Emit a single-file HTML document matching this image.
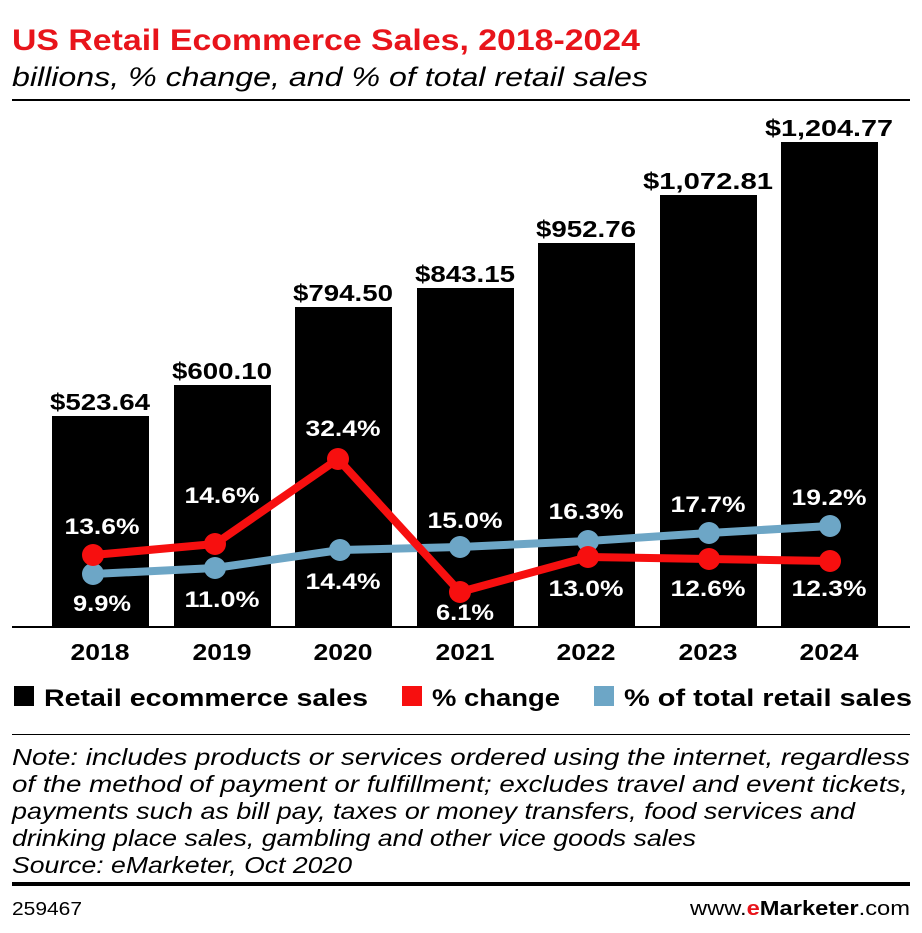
<!DOCTYPE html>
<html><head><meta charset="utf-8"><style>
body{margin:0;background:#fff;width:922px;height:928px;overflow:hidden;font-family:"Liberation Sans",sans-serif}
</style></head><body>
<svg width="922" height="928" xmlns="http://www.w3.org/2000/svg" font-family="Liberation Sans, sans-serif">
<text x="12" y="50" font-size="30" font-weight="bold" fill="#e8141b" textLength="628" lengthAdjust="spacingAndGlyphs">US Retail Ecommerce Sales, 2018-2024</text>
<text x="12" y="86" font-size="27" font-style="italic" fill="#000" textLength="636" lengthAdjust="spacingAndGlyphs">billions, % change, and % of total retail sales</text>
<rect x="12" y="99" width="898" height="2" fill="#000"/>
<g fill="#000">
<rect x="52" y="416" width="97" height="211"/>
<rect x="174" y="385" width="97" height="242"/>
<rect x="295" y="307" width="97" height="320"/>
<rect x="417" y="288" width="97" height="339"/>
<rect x="538" y="243" width="97" height="384"/>
<rect x="660" y="195" width="97" height="432"/>
<rect x="781" y="142" width="97" height="485"/>
</g>
<rect x="12" y="626" width="898" height="2" fill="#000"/>
<g font-size="23" font-weight="bold" text-anchor="middle" fill="#000" lengthAdjust="spacingAndGlyphs">
<text x="100" y="410" textLength="100" lengthAdjust="spacingAndGlyphs">$523.64</text>
<text x="222" y="379" textLength="100" lengthAdjust="spacingAndGlyphs">$600.10</text>
<text x="343" y="301" textLength="100" lengthAdjust="spacingAndGlyphs">$794.50</text>
<text x="465" y="282" textLength="100" lengthAdjust="spacingAndGlyphs">$843.15</text>
<text x="586" y="237" textLength="100" lengthAdjust="spacingAndGlyphs">$952.76</text>
<text x="708" y="189" textLength="130" lengthAdjust="spacingAndGlyphs">$1,072.81</text>
<text x="829" y="136" textLength="128" lengthAdjust="spacingAndGlyphs">$1,204.77</text>
<text x="100" y="660" textLength="59" lengthAdjust="spacingAndGlyphs">2018</text>
<text x="222" y="660" textLength="59" lengthAdjust="spacingAndGlyphs">2019</text>
<text x="343" y="660" textLength="59" lengthAdjust="spacingAndGlyphs">2020</text>
<text x="465" y="660" textLength="59" lengthAdjust="spacingAndGlyphs">2021</text>
<text x="586" y="660" textLength="59" lengthAdjust="spacingAndGlyphs">2022</text>
<text x="708" y="660" textLength="59" lengthAdjust="spacingAndGlyphs">2023</text>
<text x="829" y="660" textLength="59" lengthAdjust="spacingAndGlyphs">2024</text>
</g>
<polyline points="93,574 215,568 340,550 460,547 588,541 709,533 830,526" fill="none" stroke="#6da6c6" stroke-width="8"/>
<g fill="#6da6c6"><circle cx="93" cy="574" r="11"/><circle cx="215" cy="568" r="11"/><circle cx="340" cy="550" r="11"/><circle cx="460" cy="547" r="11"/><circle cx="588" cy="541" r="11"/><circle cx="709" cy="533" r="11"/><circle cx="830" cy="526" r="11"/></g>
<polyline points="93,555 215,544 338,459 460,592 588,557 709,559 830,561" fill="none" stroke="#f70f0f" stroke-width="8"/>
<g fill="#f70f0f"><circle cx="93" cy="555" r="11"/><circle cx="215" cy="544" r="11"/><circle cx="338" cy="459" r="11"/><circle cx="460" cy="592" r="11"/><circle cx="588" cy="557" r="11"/><circle cx="709" cy="559" r="11"/><circle cx="830" cy="561" r="11"/></g>
<g font-size="22" font-weight="bold" text-anchor="middle" fill="#fff">
<text x="102" y="534" textLength="75" lengthAdjust="spacingAndGlyphs">13.6%</text>
<text x="222" y="503" textLength="75" lengthAdjust="spacingAndGlyphs">14.6%</text>
<text x="343" y="436" textLength="75" lengthAdjust="spacingAndGlyphs">32.4%</text>
<text x="465" y="528" textLength="75" lengthAdjust="spacingAndGlyphs">15.0%</text>
<text x="586" y="519" textLength="75" lengthAdjust="spacingAndGlyphs">16.3%</text>
<text x="708" y="512" textLength="75" lengthAdjust="spacingAndGlyphs">17.7%</text>
<text x="829" y="505" textLength="75" lengthAdjust="spacingAndGlyphs">19.2%</text>
<text x="102" y="611" textLength="58" lengthAdjust="spacingAndGlyphs">9.9%</text>
<text x="222" y="607" textLength="75" lengthAdjust="spacingAndGlyphs">11.0%</text>
<text x="343" y="589" textLength="75" lengthAdjust="spacingAndGlyphs">14.4%</text>
<text x="465" y="620" textLength="58" lengthAdjust="spacingAndGlyphs">6.1%</text>
<text x="586" y="596" textLength="75" lengthAdjust="spacingAndGlyphs">13.0%</text>
<text x="708" y="596" textLength="75" lengthAdjust="spacingAndGlyphs">12.6%</text>
<text x="829" y="596" textLength="75" lengthAdjust="spacingAndGlyphs">12.3%</text>
</g>
<rect x="14" y="686" width="20" height="20" fill="#000"/>
<text x="44" y="706" font-size="24" font-weight="bold" textLength="324" lengthAdjust="spacingAndGlyphs">Retail ecommerce sales</text>
<rect x="402" y="686" width="20" height="20" fill="#f70f0f"/>
<text x="432" y="706" font-size="24" font-weight="bold" textLength="128" lengthAdjust="spacingAndGlyphs">% change</text>
<rect x="594" y="686" width="20" height="20" fill="#6da6c6"/>
<text x="624" y="706" font-size="24" font-weight="bold" textLength="288" lengthAdjust="spacingAndGlyphs">% of total retail sales</text>
<rect x="12" y="734" width="898" height="1" fill="#000"/>
<g font-size="23" font-style="italic" fill="#000">
<text x="12" y="765" textLength="898" lengthAdjust="spacingAndGlyphs">Note: includes products or services ordered using the internet, regardless</text>
<text x="12" y="792" textLength="896" lengthAdjust="spacingAndGlyphs">of the method of payment or fulfillment; excludes travel and event tickets,</text>
<text x="12" y="819" textLength="843" lengthAdjust="spacingAndGlyphs">payments such as bill pay, taxes or money transfers, food services and</text>
<text x="12" y="846" textLength="684" lengthAdjust="spacingAndGlyphs">drinking place sales, gambling and other vice goods sales</text>
<text x="12" y="873" textLength="340" lengthAdjust="spacingAndGlyphs">Source: eMarketer, Oct 2020</text>
</g>
<rect x="12" y="882" width="898" height="4" fill="#000"/>
<text x="12" y="915" font-size="18" textLength="70" lengthAdjust="spacingAndGlyphs">259467</text>
<text x="690" y="915" font-size="20" textLength="220" lengthAdjust="spacingAndGlyphs">www.<tspan fill="#e8141b" font-weight="bold">e</tspan><tspan font-weight="bold">Marketer</tspan>.com</text>
</svg>
</body></html>
